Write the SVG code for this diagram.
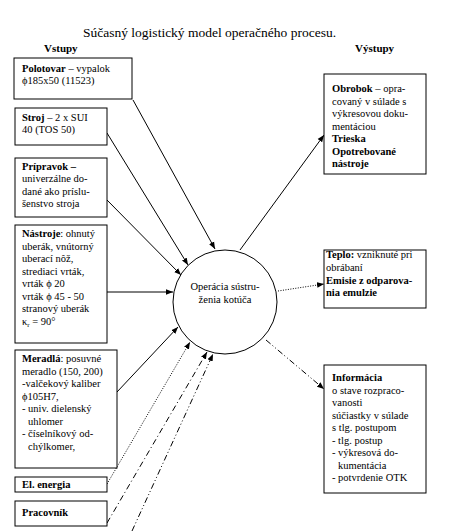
<svg xmlns="http://www.w3.org/2000/svg" width="453" height="531" viewBox="0 0 453 531" font-family="'Liberation Serif', 'Times New Roman', serif">
<defs>
<marker id="ah" viewBox="0 0 10 10" refX="10" refY="5" markerWidth="7" markerHeight="7" orient="auto" markerUnits="userSpaceOnUse">
<path d="M0,1 L10,5 L0,9 z" fill="#000"/>
</marker>
</defs>
<style>
text{font-family:'Liberation Serif','Times New Roman',serif;font-size:10.5px;fill:#000}
.b{font-weight:bold}
.box{fill:#fff;stroke:#000;stroke-width:1}
.c{stroke:#000;stroke-width:1;fill:none}
.dot{stroke-dasharray:1 1.5}
.dd{stroke-dasharray:6 3 1 3}
.ddd{stroke-dasharray:6 2.5 1 2.5 1 2.5}
.ttl{font-size:13.5px}
.hd{font-size:11px;font-weight:bold}
</style>
<rect width="453" height="531" fill="#fff"/>
<text class="ttl" x="83" y="37">Súčasný logistický model operačného procesu.</text>
<text class="hd" x="44" y="52">Vstupy</text>
<text class="hd" x="355" y="52">Výstupy</text>

<g id="connectors">
<line class="c" x1="133" y1="100" x2="215" y2="249" marker-end="url(#ah)"/>
<line class="c" x1="107" y1="133" x2="188" y2="265" marker-end="url(#ah)"/>
<line class="c" x1="107" y1="200" x2="181" y2="275" marker-end="url(#ah)"/>
<line class="c" x1="107" y1="292" x2="173" y2="292" marker-end="url(#ah)"/>
<line class="c" x1="117" y1="392" x2="178" y2="327" marker-end="url(#ah)"/>
<line class="c dot" stroke="#555" x1="107" y1="484" x2="190" y2="342" marker-end="url(#ah)"/>
<line class="c dd" x1="107" y1="523" x2="207" y2="352" marker-end="url(#ah)"/>
<line class="c ddd" x1="132" y1="531" x2="213" y2="354" marker-end="url(#ah)"/>
<line class="c" x1="240" y1="250" x2="324" y2="135" marker-end="url(#ah)"/>
<line class="c dot" x1="278" y1="291" x2="324" y2="284" marker-end="url(#ah)"/>
<line class="c ddd" x1="266" y1="340" x2="324" y2="389" marker-end="url(#ah)"/>
</g>

<g id="op">
<circle class="box" cx="225" cy="302" r="52"/>
<text x="225" y="290" text-anchor="middle" font-size="11">Operácia sústru-</text>
<text x="225" y="303" text-anchor="middle" font-size="11">ženia kotúča</text>
</g>

<g id="polotovar">
<rect class="box" x="14" y="58" width="118" height="41"/>
<text x="22" y="72"><tspan class="b">Polotovar</tspan> – vypalok</text>
<text x="22" y="84">ϕ185x50  (11523)</text>
</g>

<g id="stroj">
<rect class="box" x="15" y="108" width="92" height="37"/>
<text x="22" y="121"><tspan class="b">Stroj</tspan>  – 2 x SUI</text>
<text x="22" y="133">40 (TOS 50)</text>
</g>

<g id="pripravok">
<rect class="box" x="15" y="158" width="92" height="59"/>
<text x="22" y="170" class="b">Prípravok –</text>
<text x="22" y="182">univerzálne do-</text>
<text x="22" y="194.5">dané ako príslu-</text>
<text x="22" y="207">šenstvo stroja</text>
</g>

<g id="nastroje">
<rect class="box" x="15" y="225" width="92" height="118"/>
<text x="22" y="237"><tspan class="b">Nástroje</tspan>: ohnutý</text>
<text x="22" y="249.5">uberák, vnútorný</text>
<text x="22" y="262">uberací nôž,</text>
<text x="22" y="274.5">strediaci vrták,</text>
<text x="22" y="287">vrták ϕ 20</text>
<text x="22" y="299.5">vrták ϕ 45 - 50</text>
<text x="22" y="312">stranový uberák</text>
<text x="22" y="324.5">κ<tspan font-size="7" dy="2">r</tspan><tspan dy="-2"> = 90°</tspan></text>
</g>

<g id="meradla">
<rect class="box" x="15" y="350" width="102" height="118"/>
<text x="22" y="362"><tspan class="b">Meradlá</tspan>: posuvné</text>
<text x="22" y="374.5">meradlo (150, 200)</text>
<text x="22" y="387">-valčekový kaliber</text>
<text x="22" y="399.5">ϕ105H7,</text>
<text x="22" y="412">-  univ. dielenský</text>
<text x="28" y="424.5">uhlomer</text>
<text x="22" y="437">-  číselníkový od-</text>
<text x="28" y="449.5">chýlkomer,</text>
</g>

<g id="energia">
<rect class="box" x="15" y="477" width="92" height="15"/>
<text x="22" y="488" class="b">El. energia</text>
</g>

<g id="pracovnik">
<rect class="box" x="15" y="501" width="92" height="25"/>
<text x="22" y="516" class="b">Pracovník</text>
</g>

<g id="obrobok">
<rect class="box" x="324" y="74" width="102" height="100"/>
<text x="332" y="92"><tspan class="b">Obrobok</tspan> – opra-</text>
<text x="332" y="104.5">covaný v súlade s</text>
<text x="332" y="117">výkresovou doku-</text>
<text x="332" y="129.5">mentáciou</text>
<text x="332" y="142" class="b">Trieska</text>
<text x="332" y="154.5" class="b">Opotrebované</text>
<text x="332" y="167" class="b">nástroje</text>
</g>

<g id="teplo">
<rect class="box" x="324" y="250" width="102" height="58"/>
<text x="326" y="258"><tspan class="b">Teplo:</tspan> vzniknuté pri</text>
<text x="326" y="271">obrábaní</text>
<text x="326" y="283.5" class="b">Emisie z odparova-</text>
<text x="326" y="296" class="b">nia emulzie</text>
</g>

<g id="informacia">
<rect class="box" x="324" y="365" width="102" height="128"/>
<text x="332" y="381" class="b">Informácia</text>
<text x="332" y="393.5">o stave rozpraco-</text>
<text x="332" y="406">vanosti</text>
<text x="332" y="418.5">súčiastky v súlade</text>
<text x="332" y="431">s tlg. postupom</text>
<text x="332" y="443.5">- tlg. postup</text>
<text x="332" y="456">-  výkresová do-</text>
<text x="338" y="468.5">kumentácia</text>
<text x="332" y="481">-  potvrdenie OTK</text>
</g>
</svg>
